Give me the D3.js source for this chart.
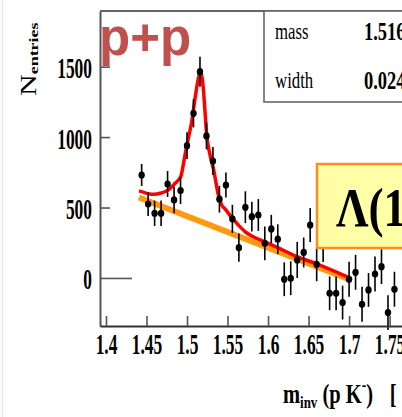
<!DOCTYPE html>
<html>
<head>
<meta charset="utf-8">
<script src="https://cdn.jsdelivr.net/npm/d3@7"></script>
<style>
    body { margin: 0; background: #fff; }
    svg { display: block; }
    text { font-family: "Liberation Serif", "DejaVu Serif", serif; }
</style>
</head>
<body>
<div id="container"></div>
<script>
// invariant mass bins (GeV/c^2), counts and errors
const massBins = [1.444, 1.452, 1.460, 1.468, 1.476, 1.484, 1.492, 1.500, 1.508, 1.516,
    1.524, 1.532, 1.540, 1.548, 1.556, 1.564, 1.572, 1.580, 1.588, 1.596,
    1.604, 1.612, 1.620, 1.628, 1.636, 1.644, 1.652, 1.660, 1.668, 1.676,
    1.684, 1.692, 1.700, 1.708, 1.716, 1.724, 1.732, 1.740, 1.748, 1.756];
const counts = [731, 525, 459, 459, 667, 554, 620, 939, 1169, 1464,
    1008, 830, 559, 660, 419, 215, 502, 435, 447, 246,
    348, 275, -9, -2, 128, 181, 376, 97, 234, -109,
    -109, -175, -9, 40, -187, -85, 28, 80, -246, -80];
const errors = [78, 85, 90, 90, 92, 95, 95, 95, 100, 106,
    95, 100, 95, 88, 100, 100, 113, 106, 113, 120,
    100, 106, 120, 120, 128, 106, 120, 120, 120, 120,
    120, 120, 124, 124, 124, 120, 124, 124, 124, 124];

// fit curve (signal + background)
const fitMass = [1.4407, 1.4441, 1.452, 1.4593, 1.4679, 1.4769, 1.4852, 1.4922, 1.4975, 1.5016,
    1.5058, 1.5099, 1.514, 1.5164, 1.5201, 1.5222, 1.5243, 1.5284, 1.5325, 1.5387,
    1.5428, 1.5469, 1.5559, 1.5633, 1.5716, 1.5799, 1.5954, 1.612, 1.6358, 1.6601, 1.700];
const fitValue = [618, 613, 598, 594, 603, 625, 672, 719, 873, 991,
    1109, 1275, 1417, 1462, 1346, 1180, 1015, 873, 778, 589,
    518, 490, 424, 376, 329, 298, 258, 215, 151, 100, 2];

// linear background
const bgMass = [1.4407, 1.700];
const bgValue = [571, -9];

const xTicks = [1.4, 1.45, 1.5, 1.55, 1.6, 1.65, 1.7, 1.75];
const xTickLabels = ["1.4", "1.45", "1.5", "1.55", "1.6", "1.65", "1.7", "1.75"];
const yTicks = [0, 500, 1000, 1500];
const yTickLabels = ["0", "500", "1000", "1500"];

const statNames = ["mass", "width"];
const statValues = ["1.516", "0.024"];

const width = 402;
const height = 417;

const x = d3.scaleLinear().domain([1.3926, 1.79]).range([100, 422]);
const y = d3.scaleLinear().domain([-341, 1895]).range([326, 11]);

const svg = d3.select("#container")
    .append("svg")
    .attr("width", width)
    .attr("height", height);

svg.append("rect").attr("width", width).attr("height", height).attr("fill", "#fff");
// faint slide edge
svg.append("line")
    .attr("x1", 2.5).attr("x2", 2.5).attr("y1", 0).attr("y2", height)
    .attr("stroke", "#f8e2e6").attr("stroke-width", 1.5);

// background fit
const bgData = bgMass.map((m, i) => ({m: m, v: bgValue[i]}));
svg.append("path")
    .datum(bgData)
    .attr("fill", "none")
    .attr("stroke", "#ff9a10")
    .attr("stroke-width", 6)
    .attr("d", d3.line().x(d => x(d.m)).y(d => y(d.v)));

// full fit
const fitData = fitMass.map((m, i) => ({m: m, v: fitValue[i]}));
svg.append("path")
    .datum(fitData)
    .attr("fill", "none")
    .attr("stroke", "#ff0000")
    .attr("stroke-width", 3.5)
    .attr("d", d3.line().curve(d3.curveMonotoneX).x(d => x(d.m)).y(d => y(d.v)));

// data with error bars
const points = massBins.map((m, i) => ({m: m, v: counts[i], e: errors[i]}));
svg.append("g")
    .selectAll("line")
    .data(points)
    .join("line")
    .attr("x1", d => x(d.m)).attr("x2", d => x(d.m))
    .attr("y1", d => y(d.v - d.e)).attr("y2", d => y(d.v + d.e))
    .attr("stroke", "#000")
    .attr("stroke-width", 1.6);
svg.append("g")
    .selectAll("ellipse")
    .data(points)
    .join("ellipse")
    .attr("cx", d => x(d.m)).attr("cy", d => y(d.v))
    .attr("rx", 3.2).attr("ry", 3.6)
    .attr("fill", "#000");

// axes
const yAxis = svg.append("g")
    .attr("transform", "translate(100,0)")
    .call(d3.axisLeft(y).tickValues(yTicks).tickFormat((d, i) => yTickLabels[i])
        .tickSize(-10).tickSizeOuter(0));
yAxis.select(".domain").attr("stroke", "#555").attr("stroke-width", 2);
yAxis.selectAll(".tick line").attr("stroke", "#555").attr("stroke-width", 1.6);
yAxis.selectAll(".tick").filter(d => d === 0).select("line").attr("x2", 32);
yAxis.selectAll(".tick text")
    .attr("x", 0).attr("dy", null)
    .attr("transform", "translate(-8,11) scale(0.6,1)")
    .attr("font-family", "Liberation Serif")
    .attr("font-weight", "bold")
    .attr("font-size", 29)
    .attr("fill", "#000");

const xAxis = svg.append("g")
    .attr("transform", "translate(0,326)")
    .call(d3.axisBottom(x).tickValues(xTicks).tickFormat((d, i) => xTickLabels[i])
        .tickSize(-10).tickSizeOuter(0));
xAxis.select(".domain").attr("stroke", "#333").attr("stroke-width", 2);
xAxis.selectAll(".tick line").attr("stroke", "#555").attr("stroke-width", 1.6);
xAxis.selectAll(".tick text")
    .attr("y", 0).attr("dy", null)
    .attr("transform", "translate(0,28) scale(0.6,1)")
    .attr("font-family", "Liberation Serif")
    .attr("font-weight", "bold")
    .attr("font-size", 29)
    .attr("fill", "#000");

// top frame
svg.append("line")
    .attr("x1", x.range()[0]).attr("x2", x.range()[1])
    .attr("y1", y.range()[1]).attr("y2", y.range()[1])
    .attr("stroke", "#666").attr("stroke-width", 2);

// axis titles
const yTitle = svg.append("text")
    .attr("transform", "translate(36,96) rotate(-90) scale(1,0.75)")
    .attr("font-weight", "bold")
    .attr("fill", "#000");
yTitle.append("tspan").attr("font-size", 30).attr("font-weight", "normal").text("N");
yTitle.append("tspan").attr("font-size", 18).attr("dy", 3).text("entries");

const xTitle = svg.append("text")
    .attr("transform", "translate(283,403) scale(0.76,1)")
    .attr("font-weight", "bold")
    .attr("fill", "#000");
xTitle.append("tspan").attr("font-size", 27).text("m");
xTitle.append("tspan").attr("font-size", 17).attr("dy", 5).text("inv");
xTitle.append("tspan").attr("font-size", 27).attr("dy", -5).text(" (p K");
xTitle.append("tspan").attr("font-size", 18).attr("dy", -12).text("-");
xTitle.append("tspan").attr("font-size", 27).attr("dy", 12).text(")");
xTitle.append("tspan").attr("font-size", 27).attr("dx", 22).text("[");

// stat box
svg.append("rect")
    .attr("x", 264).attr("y", 11).attr("width", 200).attr("height", 91)
    .attr("fill", "#fff").attr("stroke", "#666").attr("stroke-width", 1.6);
const statRows = svg.append("g").selectAll("g")
    .data(statNames)
    .join("g")
    .attr("transform", (d, i) => "translate(0," + (39 + i * 49) + ")");
statRows.append("text")
    .attr("transform", "translate(275,0) scale(0.7,1)")
    .attr("font-size", 24)
    .attr("fill", "#000")
    .text(d => d);
statRows.append("text")
    .attr("transform", "translate(364,1) scale(0.74,1)")
    .attr("font-size", 25)
    .attr("font-weight", "bold")
    .attr("fill", "#000")
    .text((d, i) => statValues[i]);

// slide overlays
svg.append("text")
    .attr("x", 99).attr("y", 55)
    .style("font-family", "'Liberation Sans', Arial, sans-serif")
    .attr("font-weight", "bold")
    .attr("font-size", 51)
    .attr("fill", "#c0504d")
    .text("p+p");

svg.append("rect")
    .attr("x", 317).attr("y", 164).attr("width", 120).attr("height", 84)
    .attr("fill", "#ffffa8").attr("stroke", "#ff8a1e").attr("stroke-width", 2.5);
svg.append("text")
    .attr("transform", "translate(336,226) scale(0.84,1)")
    .attr("font-size", 54)
    .attr("font-weight", "bold")
    .attr("fill", "#000")
    .text("Λ(1405)");
</script>
</body>
</html>
